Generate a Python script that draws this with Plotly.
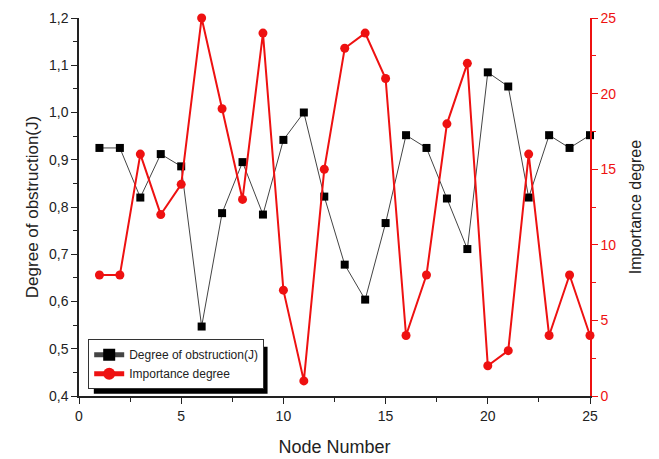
import plotly.graph_objects as go

# Node indices and the two measured series
nodes = list(range(1, 26))
obstruction = [0.925, 0.925, 0.82, 0.912, 0.886, 0.547, 0.787, 0.895, 0.784, 0.942,
               1.0, 0.822, 0.678, 0.604, 0.766, 0.952, 0.925, 0.818, 0.711, 1.085,
               1.055, 0.82, 0.952, 0.925, 0.952]
importance = [8, 8, 16, 12, 14, 25, 19, 13, 24, 7, 1, 15, 23, 24, 21, 4, 8, 18, 22, 2,
              3, 16, 4, 8, 4]

RED = "#ee1111"
FONT = "Liberation Sans, Arial, sans-serif"

fig = go.Figure()
fig.add_trace(go.Scatter(
    x=nodes, y=obstruction, name="Degree of obstruction(J)",
    mode="lines+markers", cliponaxis=False,
    line=dict(color="#444444", width=1),
    marker=dict(symbol="square", size=8, color="black"),
    yaxis="y",
))
fig.add_trace(go.Scatter(
    x=nodes, y=importance, name="Importance degree",
    mode="lines+markers", cliponaxis=False,
    line=dict(color=RED, width=2),
    marker=dict(symbol="circle", size=9, color=RED),
    yaxis="y2",
))

# drop shadow behind the legend box
fig.add_shape(type="rect", xref="paper", yref="paper",
              x0=0.029, x1=0.369, y0=0.006, y1=0.13,
              fillcolor="black", line=dict(width=0), layer="above")

fig.update_layout(
    width=659, height=459,
    margin=dict(l=79, r=69, t=18, b=63),
    paper_bgcolor="white", plot_bgcolor="white",
    separators=",.",
    font=dict(family=FONT, size=14, color="#222222"),
    showlegend=True,
    legend=dict(x=0.018, y=0.15, xanchor="left", yanchor="top",
                bgcolor="white", bordercolor="#333333", borderwidth=1,
                font=dict(size=12, color="#222222"),
                tracegroupgap=0, itemsizing="constant",
                itemwidth=30),
    xaxis=dict(
        range=[0, 25], tickmode="linear", tick0=0, dtick=5,
        ticks="outside", ticklen=6, tickcolor="#222222",
        minor=dict(ticks="outside", dtick=2.5, ticklen=4, tickcolor="#222222"),
        showline=True, linecolor="#222222", linewidth=1.5,
        showgrid=False, zeroline=False, automargin=False,
        title=dict(text="Node Number", font=dict(size=18), standoff=18),
        tickfont=dict(size=14),
    ),
    xaxis2=dict(
        range=[0, 25], overlaying="x", side="top", matches="x",
        tickmode="linear", tick0=0, dtick=2.5,
        ticks="inside", ticklen=5, tickcolor="#222222",
        showticklabels=False, showline=True, linecolor="#222222", linewidth=1.5,
        showgrid=False, zeroline=False, automargin=False,
    ),
    yaxis=dict(
        range=[0.4, 1.2], tickmode="linear", tick0=0.4, dtick=0.1,
        tickformat=".1f",
        ticks="outside", ticklen=6, tickcolor="#222222",
        minor=dict(ticks="outside", dtick=0.05, ticklen=4, tickcolor="#222222"),
        showline=True, linecolor="#222222", linewidth=1.5,
        showgrid=False, zeroline=False, automargin=False,
        title=dict(text="Degree of obstruction(J)", font=dict(size=17), standoff=6),
        tickfont=dict(size=14),
    ),
    yaxis2=dict(
        range=[0, 25], overlaying="y", side="right",
        tickmode="linear", tick0=0, dtick=5,
        ticks="outside", ticklen=6, tickcolor=RED,
        minor=dict(ticks="outside", dtick=2.5, ticklen=4, tickcolor=RED),
        showline=True, linecolor=RED, linewidth=1.5,
        showgrid=False, zeroline=False, automargin=False,
        tickfont=dict(size=14, color=RED),
        title=dict(text="Importance degree", font=dict(size=16, color="#222222"), standoff=14),
    ),
)

fig.write_html("out.html")
